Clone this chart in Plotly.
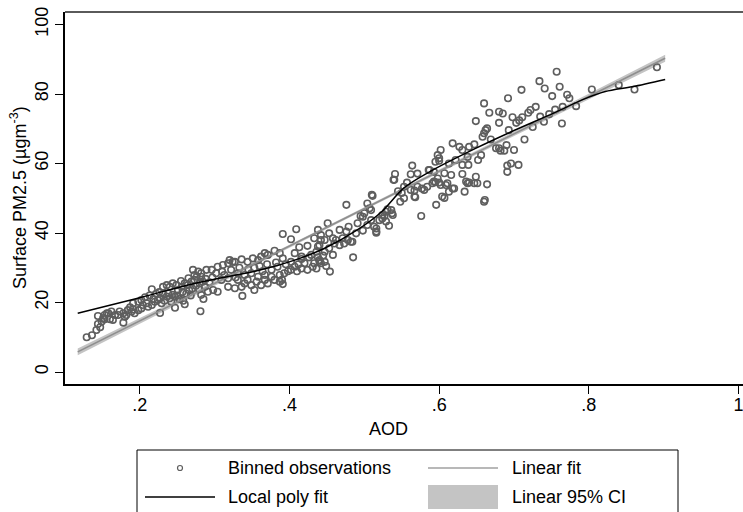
import plotly.graph_objects as go

# ---------------- data ----------------
aod = [
    0.129, 0.136, 0.142, 0.147, 0.144, 0.149, 0.153, 0.144, 0.151, 0.153, 0.158, 0.160, 0.164, 0.167, 0.171,
    0.173, 0.178, 0.180, 0.178, 0.184, 0.187, 0.191, 0.193, 0.198, 0.162, 0.156, 0.189, 0.182, 0.191, 0.198,
    0.202, 0.204, 0.209, 0.211, 0.216, 0.220, 0.224, 0.227, 0.229, 0.233, 0.236, 0.238, 0.240, 0.242, 0.244,
    0.247, 0.251, 0.256, 0.260, 0.264, 0.269, 0.273, 0.271, 0.273, 0.282, 0.216, 0.231, 0.236, 0.240, 0.244,
    0.202, 0.281, 0.276, 0.278, 0.282, 0.289, 0.296, 0.282, 0.291, 0.298, 0.287, 0.280, 0.207, 0.213, 0.218,
    0.222, 0.226, 0.231, 0.250, 0.253, 0.257, 0.262, 0.266, 0.270, 0.275, 0.279, 0.284, 0.288, 0.293, 0.297,
    0.255, 0.265, 0.249, 0.258, 0.268, 0.285, 0.227, 0.247, 0.260,
    0.302, 0.313, 0.322, 0.331, 0.340, 0.349, 0.358, 0.367, 0.376, 0.384, 0.309, 0.318, 0.331, 0.344, 0.367,
    0.318, 0.327, 0.336, 0.340, 0.349, 0.353, 0.362, 0.371, 0.380, 0.387, 0.391, 0.376, 0.387, 0.393, 0.304,
    0.311, 0.318, 0.327, 0.336, 0.344, 0.351, 0.358, 0.362, 0.367, 0.371, 0.380, 0.387, 0.391, 0.320, 0.324,
    0.337, 0.304, 0.391, 0.390, 0.353, 0.360, 0.370, 0.345, 0.333, 0.395, 0.398, 0.382, 0.364, 0.356, 0.310,
    0.328,
    0.409, 0.402, 0.413, 0.424, 0.433, 0.438, 0.442, 0.429, 0.416, 0.407, 0.420, 0.433, 0.440, 0.402, 0.402,
    0.407, 0.416, 0.424, 0.431, 0.436, 0.454, 0.447, 0.476, 0.485, 0.451, 0.438, 0.442, 0.453, 0.458, 0.467,
    0.476, 0.471, 0.478, 0.482, 0.460, 0.447, 0.440, 0.453, 0.467, 0.473, 0.436, 0.447, 0.458, 0.440, 0.442,
    0.449, 0.438, 0.462, 0.479, 0.484, 0.489, 0.491, 0.495, 0.498, 0.498, 0.416, 0.412, 0.426, 0.445, 0.410,
    0.500, 0.504, 0.507, 0.511, 0.509, 0.504, 0.509, 0.513, 0.516, 0.516, 0.516, 0.520, 0.524, 0.529, 0.533,
    0.538, 0.536, 0.531, 0.527, 0.524, 0.529, 0.537, 0.540, 0.553, 0.567, 0.576, 0.596, 0.604, 0.593, 0.602,
    0.580, 0.571, 0.562, 0.553, 0.541, 0.539, 0.562, 0.564, 0.586, 0.571, 0.595, 0.587, 0.593, 0.598, 0.591,
    0.600, 0.598, 0.602, 0.600, 0.595, 0.600, 0.567, 0.577, 0.584, 0.510, 0.568, 0.545, 0.550, 0.557, 0.548,
    0.611, 0.620, 0.613, 0.631, 0.638, 0.649, 0.647, 0.664, 0.634, 0.652, 0.639, 0.661, 0.607, 0.616, 0.640,
    0.636, 0.651, 0.618, 0.609, 0.607, 0.613, 0.622, 0.631, 0.638, 0.656, 0.618, 0.627, 0.631, 0.640, 0.647,
    0.680, 0.687, 0.690, 0.700, 0.696, 0.691, 0.706, 0.691, 0.662, 0.658, 0.669, 0.693, 0.664, 0.660, 0.676,
    0.682, 0.649, 0.680, 0.660, 0.667, 0.680, 0.685, 0.698, 0.692, 0.660,
    0.703, 0.707, 0.711, 0.719, 0.722, 0.729, 0.747, 0.740, 0.714, 0.734, 0.757, 0.761, 0.741, 0.710, 0.751,
    0.771, 0.774, 0.783, 0.765, 0.764, 0.804, 0.840, 0.861, 0.891, 0.725, 0.735, 0.755,
]
pm25 = [
    10.0, 10.6, 12.1, 12.9, 13.8, 14.5, 15.2, 16.1, 15.5, 16.4, 16.9, 15.2, 15.0, 16.4, 16.4,
    17.4, 16.9, 15.9, 14.2, 17.8, 18.6, 18.0, 16.9, 17.8, 17.4, 16.9, 17.4, 16.4, 19.8, 20.2,
    18.3, 19.3, 19.8, 18.8, 19.3, 20.2, 20.7, 21.2, 19.8, 20.5, 21.7, 22.6, 21.2, 20.2, 22.2,
    21.7, 23.6, 24.5, 25.5, 25.0, 26.0, 26.5, 29.4, 27.9, 27.4, 23.8, 24.5, 25.0, 24.5, 25.5,
    20.7, 17.5, 27.4, 28.9, 28.4, 29.4, 29.4, 22.2, 23.1, 23.6, 24.5, 25.5, 21.5, 22.0, 21.0,
    22.5, 23.0, 22.5, 22.0, 21.0, 23.0, 22.5, 23.5, 24.0, 24.8, 23.8, 26.0, 26.8, 25.8, 27.2,
    26.2, 27.0, 25.0, 20.5, 22.0, 21.0, 17.0, 18.5, 19.5,
    28.4, 27.9, 29.4, 28.4, 27.9, 28.4, 27.4, 27.9, 29.4, 30.3, 26.5, 27.0, 26.5, 26.5, 26.5,
    24.5, 24.1, 24.5, 25.5, 25.0, 23.6, 25.0, 25.5, 26.5, 26.0, 25.3, 27.4, 27.9, 28.4, 30.3,
    30.8, 31.3, 31.7, 32.4, 31.7, 32.7, 32.2, 33.2, 34.2, 33.7, 34.9, 34.2, 32.7, 32.2, 31.7,
    21.9, 23.1, 39.7, 26.5, 30.0, 30.5, 31.0, 29.5, 30.0, 31.0, 29.0, 31.5, 29.0, 26.0, 28.9,
    27.2,
    41.1, 38.2, 35.9, 36.3, 38.5, 36.1, 38.0, 33.7, 33.2, 34.2, 31.3, 31.3, 31.7, 31.7, 29.4,
    30.3, 29.8, 29.4, 30.3, 29.8, 28.9, 31.7, 48.1, 33.0, 42.8, 40.9, 39.4, 39.9, 38.5, 40.9,
    40.4, 38.5, 38.0, 37.5, 37.0, 38.0, 36.5, 35.6, 36.5, 37.0, 34.6, 34.6, 33.7, 32.2, 31.3,
    30.5, 33.0, 38.0, 41.8, 37.5, 39.9, 42.8, 44.9, 40.7, 44.7, 32.5, 31.0, 33.0, 33.5, 29.0,
    45.7, 48.5, 47.1, 50.7, 46.6, 42.3, 43.7, 41.8, 40.4, 41.3, 40.1, 43.7, 44.2, 43.3, 42.1,
    45.2, 46.6, 46.8, 44.9, 45.2, 46.1, 45.7, 55.3, 50.0, 50.5, 44.9, 48.1, 50.5, 54.8, 53.8,
    52.4, 53.3, 52.4, 53.3, 57.0, 55.3, 56.9, 59.4, 58.1, 57.1, 54.6, 58.1, 57.6, 55.7, 54.3,
    54.5, 62.4, 63.9, 60.8, 60.5, 61.5, 52.2, 52.8, 53.3, 51.0, 50.3, 52.0, 51.5, 54.5, 49.0,
    54.3, 52.8, 51.9, 57.0, 54.3, 56.2, 54.3, 54.0, 51.9, 61.0, 59.6, 49.5, 57.2, 56.7, 54.5,
    54.8, 54.3, 52.8, 53.8, 50.1, 60.0, 61.0, 59.6, 61.9, 62.4, 65.8, 64.8, 63.9, 64.8, 65.5,
    64.4, 63.7, 65.3, 63.9, 60.0, 57.6, 59.6, 59.4, 69.6, 67.7, 66.9, 69.6, 70.1, 68.7, 64.4,
    63.7, 72.2, 71.7, 77.3, 74.6, 74.9, 74.4, 73.3, 78.8, 49.0,
    71.7, 72.4, 73.3, 74.6, 75.4, 76.3, 74.2, 72.0, 66.9, 83.7, 86.4, 82.1, 81.6, 81.2, 79.4,
    79.8, 78.8, 76.5, 76.3, 71.5, 81.3, 82.6, 81.3, 87.7, 70.5, 73.5, 75.5,
]

# linear fit and its 95% CI
fit_x = [0.117, 0.25, 0.40, 0.50, 0.60, 0.75, 0.902]
fit_y = [5.8, 20.1, 36.2, 47.0, 57.8, 73.9, 90.3]
ci_half = [1.0, 0.7, 0.45, 0.4, 0.45, 0.7, 1.0]

# local polynomial fit
lp_x = [0.117, 0.2, 0.273, 0.362, 0.407, 0.447, 0.49, 0.522, 0.553, 0.587, 0.65, 0.7,
        0.753, 0.791, 0.822, 0.858, 0.902]
lp_y = [16.9, 21.4, 25.5, 29.4, 32.2, 35.6, 40.8, 45.9, 53.0, 57.6, 64.5, 69.5,
        74.5, 78.3, 80.7, 82.1, 84.2]

x_ticks = [0.2, 0.4, 0.6, 0.8, 1.0]
x_ticklabels = [".2", ".4", ".6", ".8", "1"]
y_ticks = [0, 20, 40, 60, 80, 100]

legend_labels = ["Binned observations", "Linear fit", "Local poly fit", "Linear 95% CI"]

# ---------------- figure ----------------
W, H = 743, 512
L, R, T, B = 65, 0, 12, 128
PW, PH = W - L - R, H - T - B
FONT = "Liberation Sans, Arial, Helvetica, sans-serif"
FS = 18


def px(xp):
    return (xp - L) / PW


def py(yp):
    return (H - B - yp) / PH


fig = go.Figure()

ci_lo = [y - h for y, h in zip(fit_y, ci_half)]
ci_hi = [y + h for y, h in zip(fit_y, ci_half)]
fig.add_trace(go.Scatter(
    x=fit_x + fit_x[::-1], y=ci_hi + ci_lo[::-1], fill="toself",
    fillcolor="#c4c4c4", line=dict(width=0), mode="lines", hoverinfo="skip",
    showlegend=False))

fig.add_trace(go.Scatter(
    x=aod, y=pm25, mode="markers",
    marker=dict(symbol="circle-open", size=6.5, color="#5e5e5e", line=dict(width=1.6, color="#5e5e5e")),
    showlegend=False))

fig.add_trace(go.Scatter(
    x=fit_x, y=fit_y, mode="lines", line=dict(color="#8e8e8e", width=1.6), showlegend=False))

fig.add_trace(go.Scatter(
    x=lp_x, y=lp_y, mode="lines", line=dict(color="#000000", width=1.5, shape="spline", smoothing=0.9),
    showlegend=False))

shapes = []
annotations = []
# top border
shapes.append(dict(type="line", xref="paper", yref="paper", x0=0, x1=1, y0=1, y1=1,
                   line=dict(color="#5a5a5a", width=2)))

# manual legend
shapes.append(dict(type="rect", xref="paper", yref="paper", x0=px(137), x1=px(678), y0=py(450), y1=py(530),
                   line=dict(color="#000000", width=1), fillcolor="rgba(0,0,0,0)"))
r1, r2 = 468, 497
# binned observations key
shapes.append(dict(type="circle", xref="paper", yref="paper", x0=px(177.5), x1=px(182.5),
                   y0=py(r1 + 2.5), y1=py(r1 - 2.5), line=dict(color="#5e5e5e", width=1.2)))
# linear fit key
shapes.append(dict(type="line", xref="paper", yref="paper", x0=px(428), x1=px(498), y0=py(r1), y1=py(r1),
                   line=dict(color="#a0a0a0", width=1.5)))
# local poly key
shapes.append(dict(type="line", xref="paper", yref="paper", x0=px(145), x1=px(215), y0=py(r2), y1=py(r2),
                   line=dict(color="#000000", width=1.5)))
# CI key
shapes.append(dict(type="rect", xref="paper", yref="paper", x0=px(428), x1=px(498), y0=py(509), y1=py(485),
                   line=dict(width=0), fillcolor="#c4c4c4"))

for (tx, ty), lab in zip([(226, r1), (510, r1), (226, r2), (510, r2)], legend_labels):
    annotations.append(dict(text=lab, xref="paper", yref="paper", x=px(tx), y=py(ty),
                            xanchor="left", yanchor="middle", showarrow=False,
                            font=dict(family=FONT, size=FS, color="#000000")))

# axis titles
annotations.append(dict(text="AOD", xref="paper", yref="paper", x=px(388), y=py(429),
                        xanchor="center", yanchor="middle", showarrow=False,
                        font=dict(family=FONT, size=FS, color="#000000")))
annotations.append(dict(text="Surface PM2.5 (µgm<sup>-3</sup>)", xref="paper", yref="paper",
                        x=px(18), y=py(198), xanchor="center", yanchor="middle", textangle=-90,
                        showarrow=False, font=dict(family=FONT, size=FS, color="#000000")))

fig.update_layout(
    width=W, height=H,
    margin=dict(l=L, r=R, t=T, b=B, autoexpand=False),
    paper_bgcolor="white", plot_bgcolor="white",
    font=dict(family=FONT, size=FS, color="#000000"),
    shapes=shapes, annotations=annotations,
    showlegend=False,
    xaxis=dict(range=[0.1, 1.006], tickvals=x_ticks, ticktext=x_ticklabels,
               ticks="outside", ticklen=8, tickwidth=1.3, tickcolor="#000000",
               showline=True, linecolor="#000000", linewidth=1.5, ticklabeloverflow="allow",
               ticklabelstandoff=-4,
               showgrid=False, zeroline=False, tickfont=dict(size=FS)),
    yaxis=dict(range=[-3.45, 103.6], tickvals=y_ticks, tickangle=-90,
               ticks="outside", ticklen=8, tickwidth=1.3, tickcolor="#000000",
               showline=True, linecolor="#000000", linewidth=1.5,
               showgrid=False, zeroline=False, tickfont=dict(size=FS)),
)

fig.write_html("out.html")
